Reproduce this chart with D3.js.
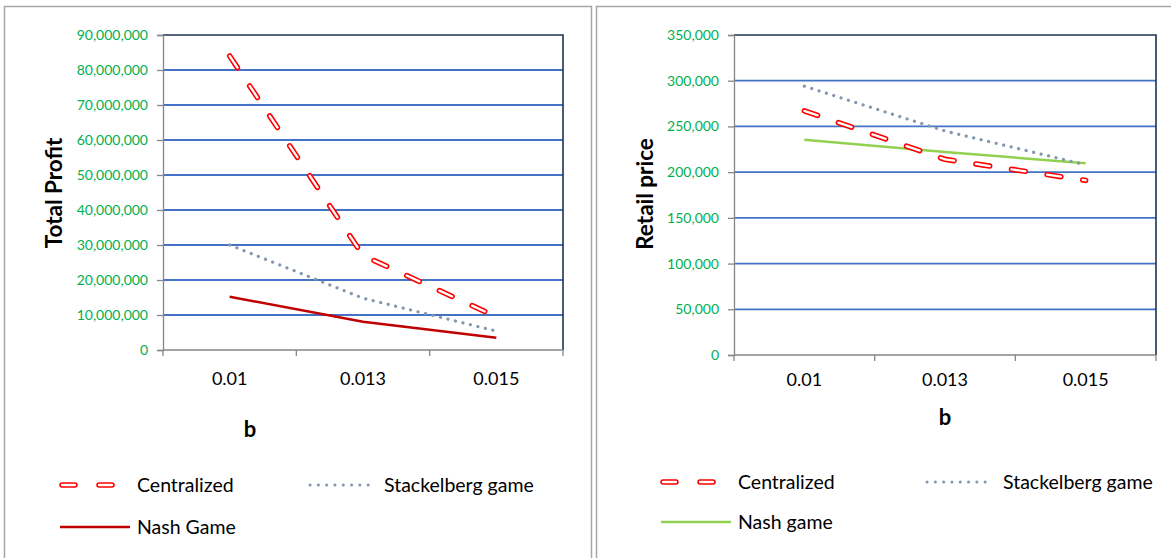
<!DOCTYPE html>
<html>
<head>
<meta charset="utf-8">
<script src="https://cdn.jsdelivr.net/npm/d3@7"></script>
<style>
  body { margin: 0; background: #fff; }
  svg { display: block; font-family: Lato, "Open Sans", sans-serif; }
</style>
</head>
<body>
<svg id="chart" width="1171" height="558"></svg>
<script>
//-----------------------------------------
// data
//-----------------------------------------
var bValues = ["0.01", "0.013", "0.015"];

var profitCentralized = [84000000, 27000000, 9500000];
var profitStackelberg = [30000000, 14800000, 5400000];
var profitNash = [15200000, 8100000, 3500000];
var profitTicks = [0, 10000000, 20000000, 30000000, 40000000, 50000000, 60000000, 70000000, 80000000, 90000000];

var priceCentralized = [267000, 214000, 191000];
var priceStackelberg = [294000, 245000, 208000];
var priceNash = [235500, 222000, 209700];
var priceTicks = [0, 50000, 100000, 150000, 200000, 250000, 300000, 350000];

var svg = d3.select("#chart");

// panel frames
svg.append("rect").attr("x", 4.5).attr("y", 6.5).attr("width", 587).attr("height", 570)
    .attr("fill", "none").attr("stroke", "#a6a6a6").attr("stroke-width", 1.5);
svg.append("rect").attr("x", 596.5).attr("y", 6.5).attr("width", 590).attr("height", 570)
    .attr("fill", "none").attr("stroke", "#a6a6a6").attr("stroke-width", 1.5);

//-----------------------------------------
// draw one chart
//-----------------------------------------
function drawChart(cfg) {
    var g = svg.append("g");

    var xScale = d3.scaleBand().domain(bValues).range([cfg.left, cfg.right]);
    var yScale = d3.scaleLinear().domain([0, d3.max(cfg.ticks)]).range([cfg.bottom, cfg.top]);
    var cx = function(d) { return xScale(d) + xScale.bandwidth() / 2; };

    // gridlines
    g.selectAll(".grid").data(cfg.ticks.slice(1, -1)).enter().append("line")
        .attr("x1", cfg.left).attr("x2", cfg.right)
        .attr("y1", function(d) { return yScale(d); })
        .attr("y2", function(d) { return yScale(d); })
        .attr("stroke", "#4472c4").attr("stroke-width", 1.8);

    // plot border (top + right dark)
    g.append("path")
        .attr("d", "M" + cfg.left + "," + yScale(d3.max(cfg.ticks)) + "H" + cfg.right + "V" + cfg.bottom)
        .attr("fill", "none").attr("stroke", "#1f3251").attr("stroke-width", 1.6);

    // y axis
    var yAxis = d3.axisLeft(yScale).tickValues(cfg.ticks).tickFormat(d3.format(",")).tickSizeOuter(0).tickSize(6).tickPadding(9);
    var ya = g.append("g").attr("transform", "translate(" + cfg.left + ",0)").call(yAxis);
    ya.select(".domain").attr("stroke", "#868686").attr("stroke-width", 1.3);
    ya.selectAll(".tick line").attr("stroke", "#868686").attr("stroke-width", 1.3);
    ya.selectAll(".tick text").attr("fill", "#00b050").attr("font-size", 14).attr("font-family", "Lato");

    // x axis
    g.append("line").attr("x1", cfg.left).attr("x2", cfg.right)
        .attr("y1", cfg.bottom).attr("y2", cfg.bottom)
        .attr("stroke", "#868686").attr("stroke-width", 1.3);
    var edges = bValues.map(function(d) { return xScale(d); }).concat([cfg.right]);
    g.selectAll(".xtick").data(edges).enter().append("line")
        .attr("x1", function(d) { return d; }).attr("x2", function(d) { return d; })
        .attr("y1", cfg.bottom).attr("y2", cfg.bottom + 6)
        .attr("stroke", "#868686").attr("stroke-width", 1.3);
    g.selectAll(".xlab").data(bValues).enter().append("text")
        .attr("x", cx).attr("y", cfg.xLabelY)
        .attr("text-anchor", "middle").attr("font-size", 18).attr("fill", "#000")
        .text(function(d) { return d; });

    // axis titles
    g.append("text").attr("x", cfg.bX).attr("y", cfg.bY)
        .attr("text-anchor", "middle").attr("font-size", 22).attr("font-weight", "bold").text("b");
    g.append("text")
        .attr("transform", "translate(" + cfg.yTitleX + "," + cfg.yTitleY + ") rotate(-90)")
        .attr("text-anchor", "middle").attr("font-size", 22.5).attr("font-weight", "bold")
        .text(cfg.yTitle);

    var line = d3.line().x(function(d, i) { return cx(bValues[i]); }).y(function(d) { return yScale(d); });

    // Nash
    g.append("path").attr("d", line(cfg.nash)).attr("fill", "none")
        .attr("stroke", cfg.nashColor).attr("stroke-width", 2.5);
    // Stackelberg
    g.append("path").attr("d", line(cfg.stack)).attr("fill", "none")
        .attr("stroke", "#8497b0").attr("stroke-width", 3.2)
        .attr("stroke-linecap", "round").attr("stroke-dasharray", "0.1 7.6");
    // Centralized (hollow dashes)
    g.append("path").attr("d", line(cfg.central)).attr("fill", "none")
        .attr("stroke", "#ff0000").attr("stroke-width", 5.5)
        .attr("stroke-linecap", "round").attr("stroke-dasharray", "14 22");
    g.append("path").attr("d", line(cfg.central)).attr("fill", "none")
        .attr("stroke", "#fff").attr("stroke-width", 2.3)
        .attr("stroke-linecap", "round").attr("stroke-dasharray", "14 22");

    // legend
    var lg = svg.append("g");
    var L = cfg.legend;
    lg.append("path").attr("d", "M" + (L.cx1 + 2) + "," + L.y1 + "H" + (L.cx1 + 53)).attr("fill", "none")
        .attr("stroke", "#ff0000").attr("stroke-width", 5.5).attr("stroke-linecap", "round").attr("stroke-dasharray", "13 24");
    lg.append("path").attr("d", "M" + (L.cx1 + 2) + "," + L.y1 + "H" + (L.cx1 + 53)).attr("fill", "none")
        .attr("stroke", "#fff").attr("stroke-width", 2.3).attr("stroke-linecap", "round").attr("stroke-dasharray", "13 24");
    lg.append("text").attr("x", L.tx1).attr("y", L.y1 + 7).attr("font-size", 19.5).text("Centralized");

    lg.append("path").attr("d", "M" + L.sx + "," + L.y1 + "H" + (L.sx + 66)).attr("fill", "none")
        .attr("stroke", "#8497b0").attr("stroke-width", 3).attr("stroke-linecap", "round").attr("stroke-dasharray", "0.1 8.2");
    lg.append("text").attr("x", L.stx).attr("y", L.y1 + 7).attr("font-size", 19.5).text("Stackelberg game");

    lg.append("line").attr("x1", L.cx1).attr("x2", L.cx1 + 70).attr("y1", L.y2).attr("y2", L.y2)
        .attr("stroke", cfg.nashColor).attr("stroke-width", 2.5);
    lg.append("text").attr("x", L.tx1).attr("y", L.y2 + 7).attr("font-size", 19.5).text(cfg.nashName);
}

drawChart({
    left: 163, right: 563, top: 35, bottom: 350,
    ticks: profitTicks,
    central: profitCentralized, stack: profitStackelberg, nash: profitNash,
    nashColor: "#c00000", nashName: "Nash Game",
    xLabelY: 385, bX: 250, bY: 437,
    yTitle: "Total Profit", yTitleX: 62, yTitleY: 193,
    legend: { cx1: 60, tx1: 137, sx: 310, stx: 384, y1: 485, y2: 527 }
});

drawChart({
    left: 734, right: 1156, top: 35, bottom: 355,
    ticks: priceTicks,
    central: priceCentralized, stack: priceStackelberg, nash: priceNash,
    nashColor: "#92d050", nashName: "Nash game",
    xLabelY: 386, bX: 945, bY: 425,
    yTitle: "Retail price", yTitleX: 653, yTitleY: 194,
    legend: { cx1: 661, tx1: 738, sx: 927, stx: 1003, y1: 482, y2: 522 }
});
</script>
</body>
</html>
